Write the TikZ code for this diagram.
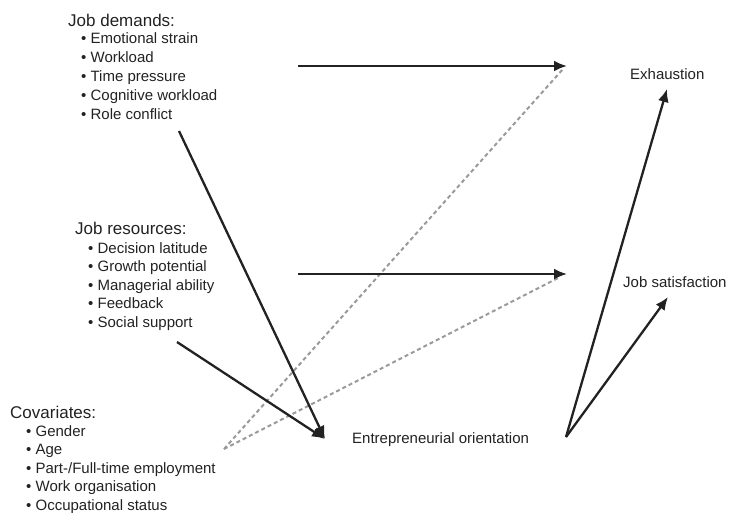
\documentclass[tikz,border=0pt]{standalone}
\usepackage{fontspec}
\setmainfont{Liberation Sans}
\usetikzlibrary{arrows.meta}
\definecolor{ink}{HTML}{222222}
\definecolor{dashgray}{HTML}{9A9A9A}
\tikzset{
  grouptitle/.style={anchor=base west, inner sep=0pt, font=\fontsize{17}{19}\selectfont, text=ink},
  item/.style={anchor=base west, inner sep=0pt, font=\fontsize{15}{18}\selectfont, text=ink},
  outcome/.style={anchor=base west, inner sep=0pt, font=\fontsize{15}{18}\selectfont, text=ink},
  solidarrow/.style={draw=ink, line width=2.3pt, -{Latex[length=13pt,width=11pt]}},
  dasharrow/.style={draw=dashgray, line width=2pt, dash pattern=on 4pt off 3pt}
}
\begin{document}
\begin{tikzpicture}[x=1pt,y=-1pt]
\useasboundingbox (0,0) rectangle (729,512);

% Job demands
\node[grouptitle] (jdt) at (68,26) {Job demands:};
\foreach \t [count=\i] in {Emotional strain,Workload,Time pressure,Cognitive workload,Role conflict}
  \node[item] (jd\i) at (81,{43+19*(\i-1)}) {• \t};

% Job resources
\node[grouptitle] (jrt) at (75,234) {Job resources:};
\foreach \t [count=\i] in {Decision latitude,Growth potential,Managerial ability,Feedback,Social support}
  \node[item] (jr\i) at (88,{253+18.5*(\i-1)}) {• \t};

% Covariates
\node[grouptitle] (cvt) at (10,418) {Covariates:};
\foreach \t [count=\i] in {Gender,Age,Part-/Full-time employment,Work organisation,Occupational status}
  \node[item] (cv\i) at (26,{436+18.5*(\i-1)}) {• \t};

% Outcomes
\node[outcome] (exh) at (630,79) {Exhaustion};
\node[outcome] (sat) at (623,287) {Job satisfaction};
\node[outcome] (eo) at (352,443) {Entrepreneurial orientation};

% connector points
\coordinate (dstart) at (298,66);
\coordinate (dend) at (567,66);
\coordinate (rstart) at (298,274);
\coordinate (rend) at (567,274);
\coordinate (rcstart) at (179,131);
\coordinate (ssstart) at (177,342);
\coordinate (eoin) at (325,439);
\coordinate (eoout) at (566,437);
\coordinate (exhin) at (667,89);
\coordinate (satin) at (668,297);
\coordinate (cvout) at (224,449);
\coordinate (dtip) at (563,69);
\coordinate (rtip) at (560,277);

% dashed covariate paths
\draw[dasharrow] (cvout) -- (dtip);
\draw[dasharrow] (cvout) -- (rtip);

% solid arrows
\draw[solidarrow] (dstart) -- (dend);
\draw[solidarrow] (rstart) -- (rend);
\draw[solidarrow] (rcstart) -- (eoin);
\draw[solidarrow] (ssstart) -- (eoin);
\draw[solidarrow] (eoout) -- (exhin);
\draw[solidarrow] (eoout) -- (satin);
\end{tikzpicture}
\end{document}
